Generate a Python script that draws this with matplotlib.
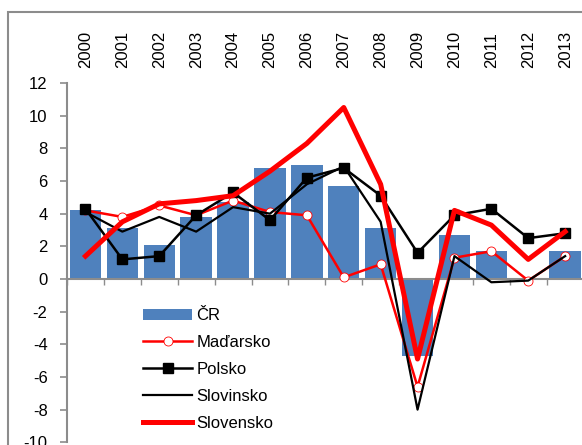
import matplotlib
matplotlib.use('Agg')
import matplotlib.pyplot as plt
import numpy as np
from matplotlib.patches import Rectangle

plt.rcParams['font.family'] = ['Liberation Sans', 'DejaVu Sans']
plt.rcParams['axes.unicode_minus'] = False

years = ['2000', '2001', '2002', '2003', '2004', '2005', '2006',
         '2007', '2008', '2009', '2010', '2011', '2012', '2013']
cr = [4.2, 3.1, 2.1, 3.8, 4.7, 6.8, 7.0, 5.7, 3.1, -4.7, 2.7, 1.7, 0.0, 1.7]
madarsko = [4.2, 3.8, 4.5, 3.9, 4.8, 4.1, 3.9, 0.1, 0.9, -6.6, 1.3, 1.7, -0.1, 1.4]
polsko = [4.3, 1.2, 1.4, 3.9, 5.3, 3.6, 6.2, 6.8, 5.1, 1.6, 3.9, 4.3, 2.5, 2.8]
slovinsko = [4.1, 2.9, 3.8, 2.9, 4.4, 4.0, 5.8, 6.9, 3.5, -8.0, 1.4, -0.2, -0.1, 1.4]
slovensko = [1.4, 3.5, 4.6, 4.8, 5.1, 6.6, 8.3, 10.5, 5.8, -4.9, 4.2, 3.3, 1.2, 2.9]

x = np.arange(len(years))

fig = plt.figure(figsize=(5.82, 4.45), dpi=100)
ax = fig.add_axes([67 / 582, 2.7 / 445, 516.6 / 582, 359.3 / 445])

b = ax.bar(x, cr, width=0.85, color='#4F81BD', label='ČR', zorder=2)
l1, = ax.plot(x, madarsko, color='red', lw=1.8, marker='o', ms=6.5,
              mfc='white', mec='red', mew=0.6, label='Maďarsko', zorder=3)
l2, = ax.plot(x, polsko, color='black', lw=1.8, marker='s', ms=7,
              label='Polsko', zorder=4)
l3, = ax.plot(x, slovinsko, color='black', lw=1.6, label='Slovinsko', zorder=3)
l4, = ax.plot(x, slovensko, color='red', lw=3.6, label='Slovensko', zorder=5)

ax.set_xlim(-0.5, 13.5)
ax.set_ylim(-10, 12)
ax.set_yticks(np.arange(-10, 13, 2))

for s in ['top', 'right']:
    ax.spines[s].set_visible(False)
ax.spines['bottom'].set_position(('data', 0))
ax.spines['bottom'].set_color('#8c8c8c')
ax.spines['bottom'].set_linewidth(1.5)
ax.spines['left'].set_color('#8c8c8c')
ax.spines['left'].set_linewidth(1.5)

ax.set_xticks(x)
ax.set_xticklabels(years, rotation=90)
ax.set_xticks(np.arange(-0.5, 14, 1), minor=True)
ax.tick_params(axis='x', which='major', bottom=False, top=False,
               labelbottom=False, labeltop=True, length=0, pad=11,
               labelsize=12)
ax.tick_params(axis='x', which='minor', bottom=True, top=False,
               direction='out', length=4, color='#8c8c8c', width=1)
ax.tick_params(axis='y', direction='out', length=5, color='#8c8c8c',
               width=1.2, pad=9, labelsize=12)

ax.legend([b, l1, l2, l3, l4], ['ČR', 'Maďarsko', 'Polsko', 'Slovinsko', 'Slovensko'],
          loc='upper left', bbox_to_anchor=(0.147, 0.373), frameon=False,
          fontsize=12, handlelength=2.95, labelspacing=0.71,
          handletextpad=0.25, borderaxespad=0, borderpad=0)

fig.patches.append(Rectangle((8 / 582, -0.2), 2, (445 - 12) / 445 + 0.2,
                             transform=fig.transFigure, fill=False,
                             edgecolor='#8c8c8c', lw=1.5))

fig.savefig('out.png', dpi=100)
